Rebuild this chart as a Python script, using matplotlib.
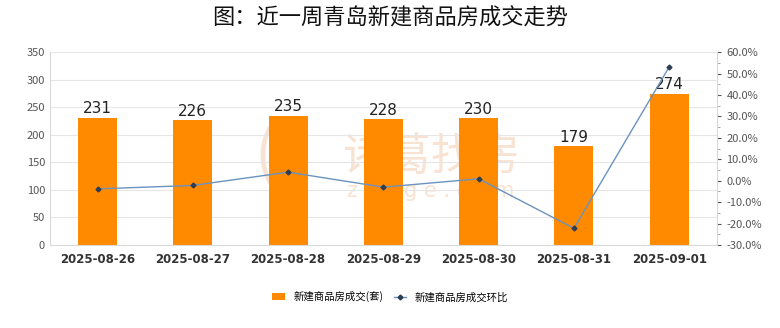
import numpy as np
import matplotlib.pyplot as plt
from matplotlib.ticker import FuncFormatter, MultipleLocator

plt.rcParams['font.family'] = ['Noto Sans CJK SC', 'DejaVu Sans']

dates = ['2025-08-26', '2025-08-27', '2025-08-28', '2025-08-29',
         '2025-08-30', '2025-08-31', '2025-09-01']
deals = [231, 226, 235, 228, 230, 179, 274]
# week-on-week change, percent
change = [-3.8, -2.2, 4.0, -3.0, 0.9, -22.2, 53.1]

fig = plt.figure(figsize=(7.8, 3.28), dpi=100)
ax = fig.add_axes([0.064, 0.253, 0.855, 0.588])
x = np.arange(len(dates))

bars = ax.bar(x, deals, width=0.41, color='#FF8A00', zorder=2,
              label='新建商品房成交(套)')
for xi, v in zip(x, deals):
    ax.text(xi, v + 3, str(v), ha='center', va='bottom', fontsize=11,
            color='#222222', family=['DejaVu Sans'], zorder=5)

ax.set_xlim(-0.5, len(dates) - 0.5)
ax.set_ylim(0, 350)
ax.yaxis.set_major_locator(MultipleLocator(50))
ax.grid(axis='y', color='#e6e6e6', linewidth=0.8, zorder=0)
ax.set_xticks(x)
ax.set_xticklabels(dates, fontsize=8.5, fontweight='bold', color='#333333',
                   family=['DejaVu Sans'])
ax.tick_params(axis='y', labelsize=8, colors='#555555', length=0)
ax.tick_params(axis='x', length=0, pad=6)
for s in ['top', 'right']:
    ax.spines[s].set_visible(False)
ax.spines['left'].set_color('#d9d9d9')
ax.spines['bottom'].set_color('#d9d9d9')

ax2 = ax.twinx()
ln, = ax2.plot(x, change, color='#6a93bf', linewidth=1, marker='D',
               markersize=2.5, markerfacecolor='#2d3e50',
               markeredgecolor='#2d3e50', zorder=4, label='新建商品房成交环比')
ax2.set_ylim(-30, 60)
ax2.yaxis.set_major_locator(MultipleLocator(10))
ax2.yaxis.set_minor_locator(MultipleLocator(5))
ax2.yaxis.set_major_formatter(FuncFormatter(lambda v, p: f'{v:.1f}%'))
ax2.tick_params(axis='y', which='major', labelsize=8, colors='#555555',
                length=3, direction='out', pad=4)
ax2.tick_params(axis='y', which='minor', length=2, colors='#999999')
for s in ['top', 'left', 'bottom']:
    ax2.spines[s].set_visible(False)
ax2.spines['right'].set_color('#d9d9d9')

# faint watermark behind the bars
ax.text(1.75, 160, '(', ha='center', va='center', fontsize=44,
        color='#f8e2d2', zorder=1)
ax.text(3.5, 160, '诸葛找房', ha='center', va='center', fontsize=32,
        color='#f8e2d2', zorder=1)
ax.text(3.5, 98, 'z h u g e . c o m', ha='center', va='center', fontsize=15,
        color='#f8e2d2', zorder=1, family=['DejaVu Sans'])

fig.text(0.5, 0.945, '图：近一周青岛新建商品房成交走势', ha='center', va='center',
         fontsize=16, color='#111111')

fig.legend([bars, ln], ['新建商品房成交(套)', '新建商品房成交环比'],
           loc='center', bbox_to_anchor=(0.5, 0.095), ncol=2, frameon=False,
           fontsize=7.5, handlelength=1.2, columnspacing=1.0)

fig.savefig('out.png', dpi=100)
